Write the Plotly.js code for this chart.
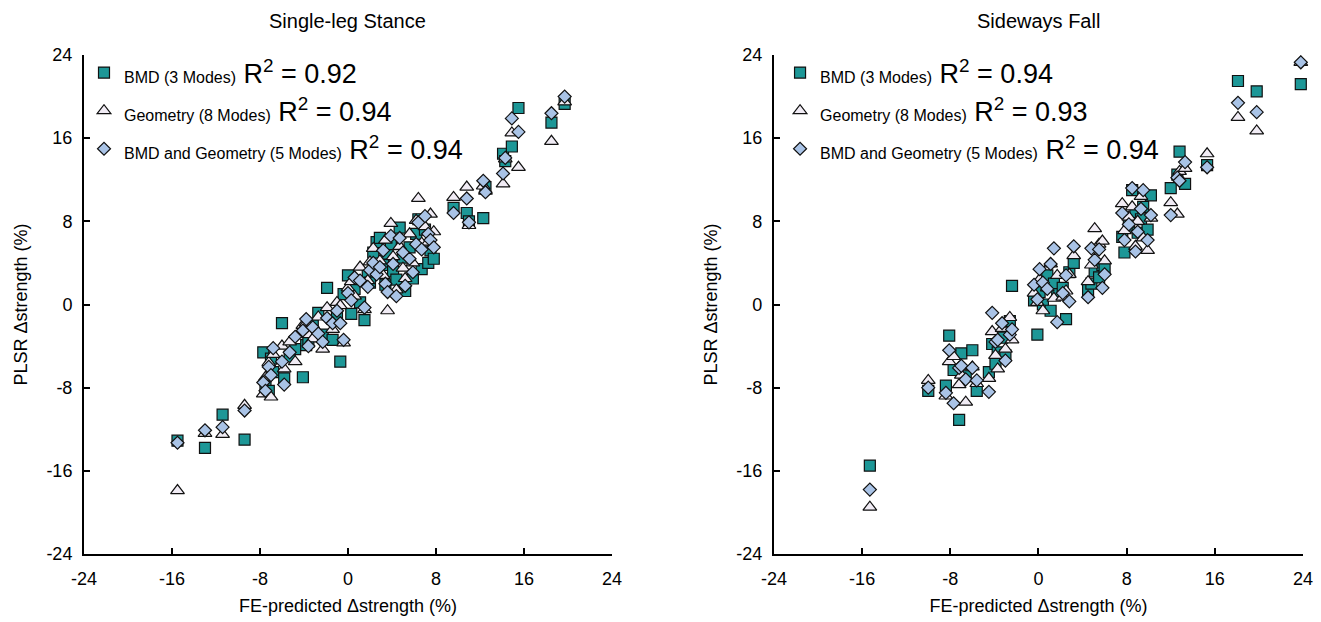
<!DOCTYPE html>
<html>
<head>
<meta charset="utf-8">
<script src="https://cdn.plot.ly/plotly-3.0.1.min.js"></script>
<style>html,body{margin:0;padding:0;background:#fff;}#chart{width:1321px;height:622px;}</style>
</head>
<body>
<div id="chart"></div>
<script>
// ---- Single-leg Stance: FE-predicted Δstrength (x) and PLSR Δstrength for each model ----
const sslX    = [-15.5,-13.0,-11.4,-9.4,-7.7,-7.5,-7.2,-7.0,-6.8,-6.0,-5.8,-5.3,-4.8,-4.1,-3.8,-3.6,-3.2,-2.7,-2.3,-1.9,-1.4,-1.0,-0.7,-0.4,0.0,0.3,0.6,1.1,1.5,1.8,2.0,2.3,2.6,2.9,3.2,3.4,3.6,3.9,4.1,4.4,4.7,5.0,5.2,5.6,5.9,6.2,6.4,6.7,7.0,7.3,7.5,7.8,9.6,10.8,11.0,12.3,12.5,14.1,14.3,14.9,15.5,18.5,19.7];
const sslBMD  = [-13.1,-13.8,-10.6,-13.0,-4.6,-7.9,-8.3,-5.2,-6.5,-1.8,-7.1,-5.0,-4.3,-7.0,-3.9,-3.6,-2.0,-0.8,-2.9,1.6,-3.4,-1.2,-5.5,1.0,2.8,-0.9,1.5,0.2,-1.5,3.0,2.1,5.0,6.0,6.4,3.8,1.9,4.9,5.8,3.2,2.4,7.4,4.5,1.3,5.5,2.5,6.8,8.2,3.4,7.2,4.0,5.2,4.4,9.3,8.8,8.0,8.3,11.3,14.5,13.8,15.2,18.9,17.5,19.3];
const sslGeo  = [-17.9,-12.4,-12.5,-9.7,-8.6,-7.0,-5.6,-8.9,-4.8,-4.0,-6.2,-3.6,-5.5,-2.0,-1.8,-2.9,-3.3,-1.2,-4.3,-0.3,-2.4,0.2,-0.1,-3.7,1.6,2.2,0.8,3.6,-0.5,2.3,4.1,5.4,3.1,4.2,2.8,6.2,-0.6,7.8,4.6,1.4,5.6,3.5,2.5,6.8,4.0,8.1,10.2,5.9,7.5,6.0,8.7,7.0,10.3,11.3,7.6,11.4,10.9,11.6,14.0,16.5,13.2,15.7,19.5];
const sslBoth = [-13.3,-12.1,-11.8,-10.2,-7.5,-8.3,-6.0,-6.8,-4.2,-5.5,-7.7,-4.6,-3.1,-2.5,-1.4,-4.0,-2.2,-2.8,-3.6,-1.3,-1.8,-0.6,-1.8,-3.4,1.1,0.4,2.6,2.3,-0.3,1.7,3.3,4.0,2.9,3.6,5.2,2.0,1.2,6.6,3.9,0.8,6.4,5.0,1.8,4.4,3.1,5.8,7.9,5.3,8.5,6.8,6.2,5.5,8.8,10.2,7.9,11.9,10.8,12.6,14.1,17.9,16.6,18.4,20.0];

// ---- Sideways Fall ----
const sfX    = [-15.3,-10.0,-8.4,-8.1,-7.7,-7.2,-7.0,-6.6,-6.0,-5.6,-4.5,-4.2,-3.9,-3.7,-3.3,-3.0,-2.6,-2.4,-0.4,-0.1,0.1,0.4,0.8,1.1,1.4,1.7,2.2,2.5,2.8,3.2,4.5,4.8,5.1,5.5,5.8,6.0,7.6,7.8,8.2,8.5,8.8,9.0,9.3,9.5,9.9,10.2,12.0,12.6,12.8,13.3,15.3,18.1,19.8,23.8];
const sfBMD  = [-15.5,-8.3,-7.8,-3.0,-6.3,-11.1,-4.7,-6.9,-4.4,-8.3,-6.5,-3.8,-5.7,-4.6,-3.2,-4.9,-1.6,1.8,0.4,-2.9,1.2,0.0,2.8,-0.6,2.0,1.0,1.6,-1.4,3.1,4.0,1.4,2.0,3.2,2.6,3.8,3.5,6.5,5.0,7.6,11.0,8.9,6.9,8.2,9.4,7.2,10.5,11.2,12.5,14.7,11.6,13.4,21.5,20.5,21.2];
const sfGeo  = [-19.5,-7.3,-8.8,-5.5,-5.0,-7.7,-6.8,-9.4,-6.0,-7.6,-7.1,-2.6,-4.9,-6.2,-2.3,-4.3,-1.25,-3.4,1.1,0.2,2.4,-0.6,1.6,3.9,0.6,2.8,0.7,1.3,2.9,4.7,2.2,3.8,7.3,5.8,6.1,4.2,9.7,7.1,8.4,9.4,5.6,8.0,10.4,6.4,5.2,8.3,9.8,8.7,12.8,13.1,14.5,18.0,16.7,23.3];
const sfBoth = [-17.8,-8.0,-8.5,-4.4,-9.5,-6.1,-5.9,-7.2,-6.1,-7.3,-8.4,-0.8,-3.6,-3.4,-1.8,-5.4,-2.9,-2.4,1.9,0.5,3.4,2.1,1.5,3.9,5.4,-1.7,1.1,2.8,0.3,5.6,0.7,5.4,4.3,5.3,1.6,2.9,8.8,6.2,7.7,11.2,5.1,7.0,9.2,11.0,6.2,8.6,8.6,12.2,11.9,13.7,13.2,19.4,18.5,23.3];

const seriesNames = ['BMD (3 Modes)', 'Geometry (8 Modes)', 'BMD and Geometry (5 Modes)'];
const r2Stance = ['0.92', '0.94', '0.94'];
const r2Fall   = ['0.94', '0.93', '0.94'];
const panelTitles = ['Single-leg Stance', 'Sideways Fall'];
const tickVals = [-24, -16, -8, 0, 8, 16, 24];
const tickText = ['-24', '-16', '-8', '0', '8', '16', '24'];

const FONT = 'Liberation Sans, Arial, sans-serif';
const symbols = ['square', 'triangle-up', 'diamond'];
const fills = ['#1d9797', '#f1ecf5', '#a9c3e6'];
const sizes = [11, 12, 10];

function label(name, r2) {
  return '<span style="font-size:16px">' + name + '</span> R<sup>2</sup> = ' + r2;
}

const traces = [];
const stanceY = [sslBMD, sslGeo, sslBoth];
const fallY = [sfBMD, sfGeo, sfBoth];
for (let i = 0; i < 3; i++) {
  traces.push({
    type: 'scatter', mode: 'markers', x: sslX, y: stanceY[i],
    xaxis: 'x', yaxis: 'y', legend: 'legend', cliponaxis: false,
    name: label(seriesNames[i], r2Stance[i]),
    marker: {symbol: symbols[i], size: sizes[i], color: fills[i], line: {color: '#111', width: 1.2}}
  });
}
for (let i = 0; i < 3; i++) {
  traces.push({
    type: 'scatter', mode: 'markers', x: sfX, y: fallY[i],
    xaxis: 'x2', yaxis: 'y2', legend: 'legend2', cliponaxis: false,
    name: label(seriesNames[i], r2Fall[i]),
    marker: {symbol: symbols[i], size: sizes[i], color: fills[i], line: {color: '#111', width: 1.2}}
  });
}

function xAxis(domain, anchor) {
  return {
    domain: domain, anchor: anchor, range: [-24, 24],
    tickmode: 'array', tickvals: tickVals, ticktext: tickText,
    showline: true, linecolor: '#000', linewidth: 2, mirror: false,
    ticks: 'inside', ticklen: 6, tickwidth: 2, tickcolor: '#000',
    showgrid: false, zeroline: false, ticklabelstandoff: 7,
    tickfont: {family: FONT, size: 18, color: '#000'},
    title: {text: 'FE-predicted Δstrength (%)', font: {family: FONT, size: 18, color: '#000'}, standoff: 12}
  };
}
function yAxis(anchor) {
  return {
    domain: [0, 1], anchor: anchor, range: [-24, 24],
    tickmode: 'array', tickvals: tickVals, ticktext: tickText,
    showline: true, linecolor: '#000', linewidth: 2, mirror: false,
    ticks: 'inside', ticklen: 6, tickwidth: 2, tickcolor: '#000',
    showgrid: false, zeroline: false, ticklabelstandoff: 6,
    tickfont: {family: FONT, size: 18, color: '#000'},
    title: {text: 'PLSR Δstrength (%)', font: {family: FONT, size: 18, color: '#000'}, standoff: 14}
  };
}
function legendCfg(x) {
  return {
    x: x, y: 1.013, xanchor: 'left', yanchor: 'top',
    bgcolor: 'rgba(0,0,0,0)', borderwidth: 0,
    font: {family: FONT, size: 27, color: '#000'},
    traceorder: 'normal', itemclick: false, itemdoubleclick: false
  };
}

const layout = {
  width: 1321, height: 622,
  margin: {l: 84, r: 18, t: 55, b: 68},
  paper_bgcolor: '#fff', plot_bgcolor: 'rgba(0,0,0,0)',
  font: {family: FONT, color: '#000'},
  showlegend: true,
  xaxis: xAxis([0, 0.4331], 'y'),
  yaxis: yAxis('x'),
  xaxis2: xAxis([0.566, 1.0], 'y2'),
  yaxis2: yAxis('x2'),
  legend: legendCfg(0.0),
  legend2: legendCfg(0.571),
  annotations: [
    {text: panelTitles[0], xref: 'x domain', yref: 'paper', x: 0.5, y: 1.0, yshift: 47,
     showarrow: false, font: {family: FONT, size: 20, color: '#000'}},
    {text: panelTitles[1], xref: 'x2 domain', yref: 'paper', x: 0.5, y: 1.0, yshift: 47,
     showarrow: false, font: {family: FONT, size: 20, color: '#000'}}
  ]
};

Plotly.newPlot('chart', traces, layout, {displayModeBar: false, staticPlot: true});
</script>
</body>
</html>
